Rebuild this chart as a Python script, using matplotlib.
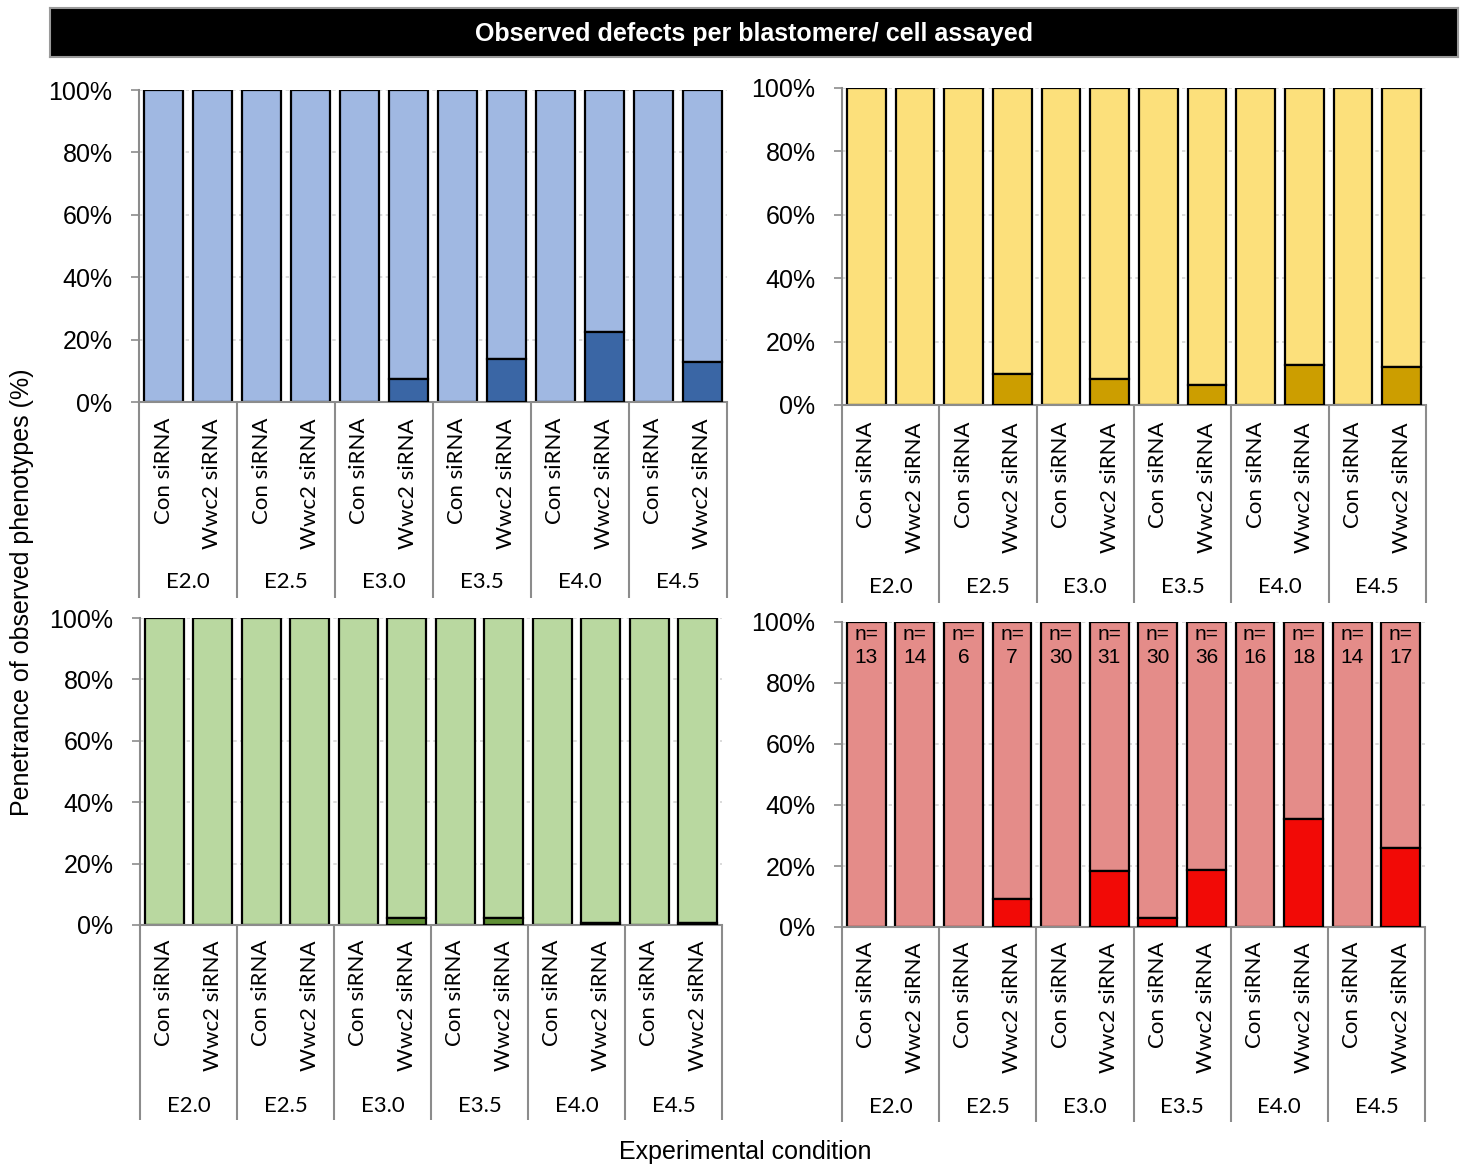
import matplotlib
matplotlib.use("Agg")
import matplotlib.pyplot as plt
from matplotlib import transforms
import numpy as np

W, H = 1469, 1165

stages = ["E2.0", "E2.5", "E3.0", "E3.5", "E4.0", "E4.5"]
treatments = ["Con siRNA", "Wwc2 siRNA"]

# % of blastomeres showing the defect, in order Con/Wwc2 per stage
blue_defect = [0, 0, 0, 0, 0, 7.5, 0, 13.8, 0, 22.3, 0, 12.9]
yellow_defect = [0, 0, 0, 9.7, 0, 8.1, 0, 6.2, 0, 12.6, 0, 12.1]
green_defect = [0, 0, 0, 0, 0, 2.4, 0, 2.4, 0, 0.5, 0, 0.8]
red_defect = [0, 0, 0, 9.3, 0, 18.4, 2.9, 18.6, 0, 35.5, 0, 25.9]
n_embryos = [13, 14, 6, 7, 30, 31, 30, 36, 16, 18, 14, 17]

ARIAL = ["Liberation Sans", "DejaVu Sans"]
CALIBRI = ["Lato", "DejaVu Sans"]
GRAY = "#8c8c8c"


def px_rect(left, top, right, bottom):
    return [left / W, 1 - bottom / H, (right - left) / W, (bottom - top) / H]


def panel(fig, rect_px, defect, light, dark, depth, lab_off, stage_off, n=None):
    left, top, right, bottom = rect_px
    ax = fig.add_axes(px_rect(*rect_px))
    h_px = bottom - top
    x = np.arange(len(defect))
    d = np.array(defect, float)
    ax.set_axisbelow(True)
    ax.yaxis.grid(True, color="#d4d4d4", linestyle=(0, (2, 2)), lw=1.2)
    ax.bar(x, 100 - d, bottom=d, width=0.8, color=light, edgecolor="black", lw=1.6, zorder=2)
    m = d > 0
    ax.bar(x[m], d[m], width=0.8, color=dark, edgecolor="black", lw=1.6, zorder=3)
    ax.set_xlim(-0.5, len(defect) - 0.5)
    ax.set_ylim(0, 100)
    ax.set_yticks(np.arange(0, 101, 20))
    ax.set_yticklabels([f"{v}%" for v in range(0, 101, 20)], family=ARIAL, fontsize=18)
    ax.tick_params(axis="y", color=GRAY, length=6, width=1.2, pad=13)
    ax.set_xticks([])
    for s in ("top", "right"):
        ax.spines[s].set_visible(False)
    for s in ("left", "bottom"):
        ax.spines[s].set_color(GRAY)
        ax.spines[s].set_linewidth(1.5)

    blend = transforms.blended_transform_factory(ax.transData, ax.transAxes)
    # group dividers of the two-level category axis
    ax.vlines(np.arange(-0.5, len(defect), 2), -depth / h_px, 0, transform=blend,
              color=GRAY, lw=1.5, clip_on=False)
    for i, xi in enumerate(x):
        ax.text(xi, -lab_off / h_px, treatments[i % 2], transform=blend, rotation=90,
                ha="center", va="top", family=CALIBRI, fontsize=16)
    for j, st in enumerate(stages):
        ax.text(2 * j + 0.5, -stage_off / h_px, st, transform=blend, ha="center",
                va="center", family=CALIBRI, fontsize=16)
    if n is not None:
        for xi, v in zip(x, n):
            ax.text(xi, 95.8, "n=", ha="center", va="center", family=ARIAL, fontsize=15, zorder=4)
            ax.text(xi, 88.2, str(v), ha="center", va="center", family=ARIAL, fontsize=15, zorder=4)
    return ax


fig = plt.figure(figsize=(W / 100, H / 100), dpi=100)

head = fig.add_axes(px_rect(50, 8, 1458, 57))
head.set_facecolor("black")
head.set_xticks([]); head.set_yticks([])
for s in head.spines.values():
    s.set_color("#9a9a9a"); s.set_linewidth(1.5)
head.text(0.5, 0.46, "Observed defects per blastomere/ cell assayed", color="white",
          ha="center", va="center", fontsize=18, fontweight="bold", family=ARIAL)

panel(fig, (139, 90, 727, 402), blue_defect, "#a0b8e2", "#3a66a5", 196, 16, 180)
panel(fig, (842, 88, 1426, 405), yellow_defect, "#fce07b", "#cc9e00", 198, 17, 182)
panel(fig, (140, 618, 722, 925), green_defect, "#b9d8a0", "#5f8f35", 195, 15, 181)
panel(fig, (842, 622, 1425, 927), red_defect, "#e48c89", "#f20a06", 195, 15, 180, n=n_embryos)

fig.text(22 / W, 1 - 592 / H, "Penetrance of observed phenotypes (%)", rotation=90,
         ha="center", va="center", family=ARIAL, fontsize=18)
fig.text(745 / W, 1 - 1152 / H, "Experimental condition", ha="center", va="center",
         family=ARIAL, fontsize=18)

fig.savefig("out.png", dpi=100, facecolor="white")
